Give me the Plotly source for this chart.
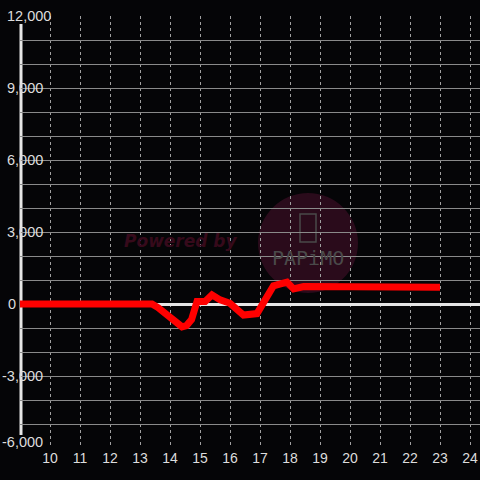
import plotly.graph_objects as go

# ---- data ----
hours = [9.0, 13.4, 13.6, 13.9, 14.2, 14.4, 14.55, 14.72, 14.9, 15.17, 15.4,
         15.67, 16.0, 16.2, 16.45, 16.9, 17.1, 17.45, 17.9, 18.12, 18.45, 23.0]
values = [0, 0, -150, -460, -760, -950, -900, -650, 100, 100, 380,
          170, 30, -150, -460, -400, 30, 760, 910, 630, 730, 700]
y_ticks = [12000, 9000, 6000, 3000, 0, -3000, -6000]
x_ticks = list(range(10, 25))

# ---- layout geometry (screen pixels; body margin removed by post_script) ----
W, H = 480, 480
ML, MR, MT, MB = 20, 0, 16, 32
PW = W - ML - MR
PH = H - MT - MB
Y0, Y1 = -6000, 12000
X0 = 9.0
X1 = X0 + PW / 30.0
label_right = {12000: 51, 0: 16}
label_shift = {-6000: 6}
box_right = {-6000: 48}
BG = "#050507"


def px2paper(px):
    return (px - ML) / PW


def py2paper(py):
    return (H - MB - py) / PH


def px2val(py_span):
    return py_span * (Y1 - Y0) / PH


fig = go.Figure()
fig.add_trace(go.Scatter(
    x=hours, y=values, mode="lines",
    line=dict(color="#ff0000", width=7),
    hoverinfo="skip", showlegend=False,
))

shapes = []
# watermark circle (below gridlines)
cx, cy, r = 308, 243, 50
shapes.append(dict(type="circle", xref="paper", yref="paper",
                   x0=px2paper(cx - r), x1=px2paper(cx + r),
                   y0=py2paper(cy + r), y1=py2paper(cy - r),
                   fillcolor="#2a0b1b", line=dict(width=0), layer="below"))
# phone icon
shapes.append(dict(type="rect", xref="paper", yref="paper",
                   x0=px2paper(300), x1=px2paper(316),
                   y0=py2paper(242), y1=py2paper(214),
                   line=dict(color="#4a4a4a", width=1.5), layer="below"))

# black boxes behind y tick labels (hide gridlines)
for v in y_ticks:
    if v == 0:
        continue
    rp = box_right.get(v, label_right.get(v, 43) + 2)
    shapes.append(dict(type="rect", xref="paper", yref="y",
                       x0=-0.05, x1=px2paper(rp),
                       y0=v - px2val(8), y1=v + px2val(8),
                       fillcolor=BG, line=dict(width=0), layer="between"))
# y axis line
shapes.append(dict(type="line", xref="paper", yref="y",
                   x0=px2paper(21), x1=px2paper(21),
                   y0=Y1 - px2val(8), y1=Y0 + px2val(13),
                   line=dict(color="#e6e6e6", width=3), layer="between"))

annotations = []
for v in y_ticks:
    rp = label_right.get(v, 43)
    annotations.append(dict(
        xref="paper", yref="y", x=px2paper(rp + 1), y=v,
        yshift=label_shift.get(v, 0),
        xanchor="right", yanchor="middle", showarrow=False, borderpad=0,
        text=f"{v:,}", font=dict(family="Liberation Sans", size=14.5, color="#dddddd"),
    ))
annotations.append(dict(
    xref="paper", yref="paper", x=px2paper(181), y=py2paper(241),
    xanchor="center", yanchor="middle", showarrow=False,
    text="<b><i>Powered by</i></b>",
    font=dict(family="DejaVu Sans", size=17, color="#360a1b"),
))
annotations.append(dict(
    xref="paper", yref="paper", x=px2paper(308), y=py2paper(258),
    xanchor="center", yanchor="middle", showarrow=False,
    text="PAPiMO",
    font=dict(family="DejaVu Sans Mono", size=20, color="#4a4a4a"),
))

fig.update_layout(
    width=W, height=H,
    margin=dict(l=ML, r=MR, t=MT, b=MB, pad=0),
    paper_bgcolor=BG, plot_bgcolor=BG,
    showlegend=False, hovermode=False,
    shapes=shapes, annotations=annotations,
    xaxis=dict(
        range=[X0, X1], tickmode="array", tickvals=x_ticks,
        ticktext=[str(t) for t in x_ticks],
        showgrid=True, gridcolor="#a0a0a0", gridwidth=1, griddash="3px,3px",
        zeroline=False, showline=False, ticks="",
        tickfont=dict(family="Liberation Sans", size=14, color="#dddddd"),
        fixedrange=True,
    ),
    yaxis=dict(
        range=[Y0, Y1], dtick=1000, tick0=0,
        showgrid=True, gridcolor="#8a8a8a", gridwidth=1,
        zeroline=True, zerolinecolor="#e6e6e6", zerolinewidth=3,
        showline=False, showticklabels=False, ticks="",
        fixedrange=True,
    ),
)

fig.write_html(
    "out.html",
    config={"displayModeBar": False, "staticPlot": True},
    post_script="document.body.style.margin='0';document.body.style.background='%s';" % BG,
)
